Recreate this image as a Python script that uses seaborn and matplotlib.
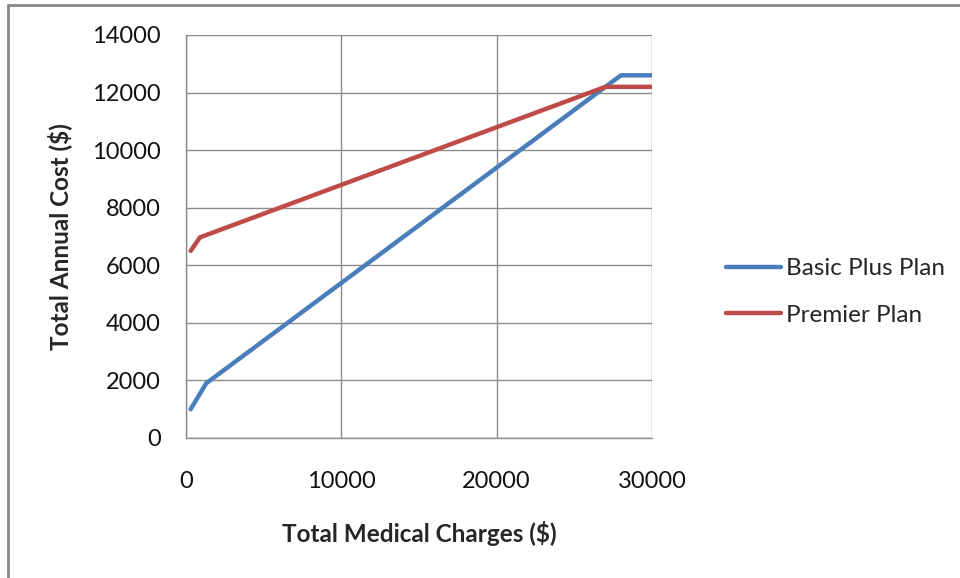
import pandas as pd
import matplotlib.pyplot as plt
import seaborn as sns
from matplotlib.lines import Line2D

# Breakpoints
basic_x = [300, 1300, 28000, 30000]
basic_y = [1000, 1900, 12600, 12600]
premier_x = [300, 900, 27000, 30000]
premier_y = [6500, 6970, 12200, 12200]
series_names = ['Basic Plus Plan', 'Premier Plan']
x_ticks = [0, 10000, 20000, 30000]
y_ticks = list(range(0, 14001, 2000))

df = pd.concat([
    pd.DataFrame({'charges': basic_x, 'cost': basic_y, 'plan': series_names[0]}),
    pd.DataFrame({'charges': premier_x, 'cost': premier_y, 'plan': series_names[1]}),
])

sns.set_theme(style='white')
plt.rcParams['font.family'] = ['Lato', 'DejaVu Sans']
GRID = '#8c8c8c'
COLORS = ['#4a7ebb', '#be4b48']

fig = plt.figure(figsize=(9.6, 5.78), dpi=100)
ax = fig.add_axes([186 / 960, 1 - 438 / 578, 466 / 960, 403 / 578])

sns.lineplot(data=df, x='charges', y='cost', hue='plan', ax=ax,
             palette=COLORS, linewidth=3.2, sort=False, legend=False)

ax.set_xlim(0, 30000)
ax.set_ylim(0, 14000)
ax.set_xticks(x_ticks)
ax.set_yticks(y_ticks)
ax.grid(True, color=GRID, linewidth=1)
ax.set_axisbelow(True)
for side in ['top', 'right']:
    ax.spines[side].set_visible(False)
for side in ['left', 'bottom']:
    ax.spines[side].set_color(GRID)
    ax.spines[side].set_linewidth(1)
ax.tick_params(axis='both', direction='out', length=6, width=1, color=GRID,
               labelsize=17, labelcolor='#111111')
ax.tick_params(axis='y', pad=12)
ax.tick_params(axis='x', pad=18)

ax.set_xlabel('Total Medical Charges ($)', fontsize=17.5, fontweight='bold')
ax.set_ylabel('Total Annual Cost ($)', fontsize=17.5, fontweight='bold')
ax.xaxis.set_label_coords(233 / 466, -(533 - 438) / 403)
ax.yaxis.set_label_coords(-(186 - 60) / 466, 0.5)
ax.xaxis.label.set_va('center')
ax.yaxis.label.set_va('center')

handles = [Line2D([], [], color=c, linewidth=3.2) for c in COLORS]
fig.legend(handles, series_names, loc='center left',
           bbox_to_anchor=(726 / 960, 1 - 292 / 578), frameon=False,
           borderpad=0, borderaxespad=0, fontsize=17.5, handlelength=2.25,
           handletextpad=0.2, labelspacing=1.05)

# outer chart frame (left and top edges)
fig.add_artist(Line2D([8 / 960, 8 / 960], [0, 1 - 5 / 578], color='#888888',
                      linewidth=2, transform=fig.transFigure))
fig.add_artist(Line2D([8 / 960, 1], [1 - 5 / 578, 1 - 5 / 578], color='#888888',
                      linewidth=2, transform=fig.transFigure))

fig.savefig('out.png', dpi=100)
